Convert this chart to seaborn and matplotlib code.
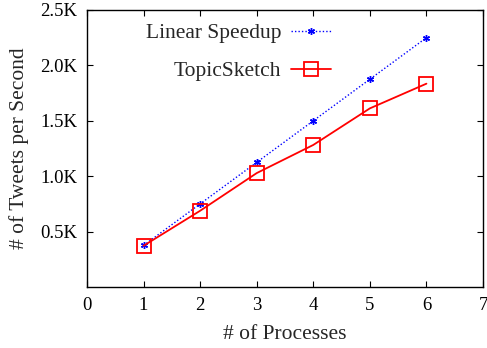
import matplotlib
matplotlib.use("Agg")
import matplotlib.pyplot as plt
import seaborn as sns
import pandas as pd

processes = [1, 2, 3, 4, 5, 6]
linear_speedup = [375, 750, 1125, 1500, 1875, 2250]
topicsketch = [372, 688, 1028, 1282, 1612, 1835]
x_ticks = [0, 1, 2, 3, 4, 5, 6, 7]
y_ticks = [500, 1000, 1500, 2000, 2500]
y_tick_labels = ["0.5K", "1.0K", "1.5K", "2.0K", "2.5K"]

sns.set_style("ticks")
plt.rcParams["font.family"] = ["Liberation Serif", "DejaVu Serif"]

df_lin = pd.DataFrame({"x": processes, "y": linear_speedup})
df_ts = pd.DataFrame({"x": processes, "y": topicsketch})

fig = plt.figure(figsize=(4.87, 3.48), dpi=100)
ax = fig.add_axes([0.1786, 0.1753, 0.8132, 0.796])

sns.lineplot(data=df_lin, x="x", y="y", ax=ax, color="#0000ff", linestyle=(0, (1, 1.5)),
             linewidth=1.0, marker=(6, 2, 0), markersize=5, markeredgewidth=1.0,
             markeredgecolor="#0000ff", label="Linear Speedup")
sns.lineplot(data=df_ts, x="x", y="y", ax=ax, color="#ff0000", linestyle="-",
             linewidth=1.3, marker="s", markersize=10, markerfacecolor="none",
             markeredgewidth=1.3, markeredgecolor="#ff0000", label="TopicSketch")

ax.set_xlim(0, 7)
ax.set_ylim(0, 2500)
ax.set_xticks(x_ticks)
ax.set_xticklabels([str(v) for v in x_ticks])
ax.set_yticks(y_ticks)
ax.set_yticklabels(y_tick_labels)
ax.tick_params(direction="in", top=True, right=True, length=4, width=0.8,
               labelsize=13.5, colors="black", pad=7)
for s in ax.spines.values():
    s.set_linewidth(1.0)
    s.set_color("black")
ax.set_xlabel("# of Processes", fontsize=15.5, labelpad=8)
ax.set_ylabel("# of Tweets per Second", fontsize=15.5, labelpad=8)

leg = ax.legend(loc="upper left", bbox_to_anchor=(146 / 487, 1 - 23 / 348),
                bbox_transform=fig.transFigure, frameon=False,
                markerfirst=False, fontsize=15.5, handlelength=1.85,
                labelspacing=0.85, handletextpad=0.45, borderaxespad=0,
                borderpad=0)
for col in leg._legend_handle_box.get_children():
    col.align = "right"

fig.savefig("out.png", dpi=100)
